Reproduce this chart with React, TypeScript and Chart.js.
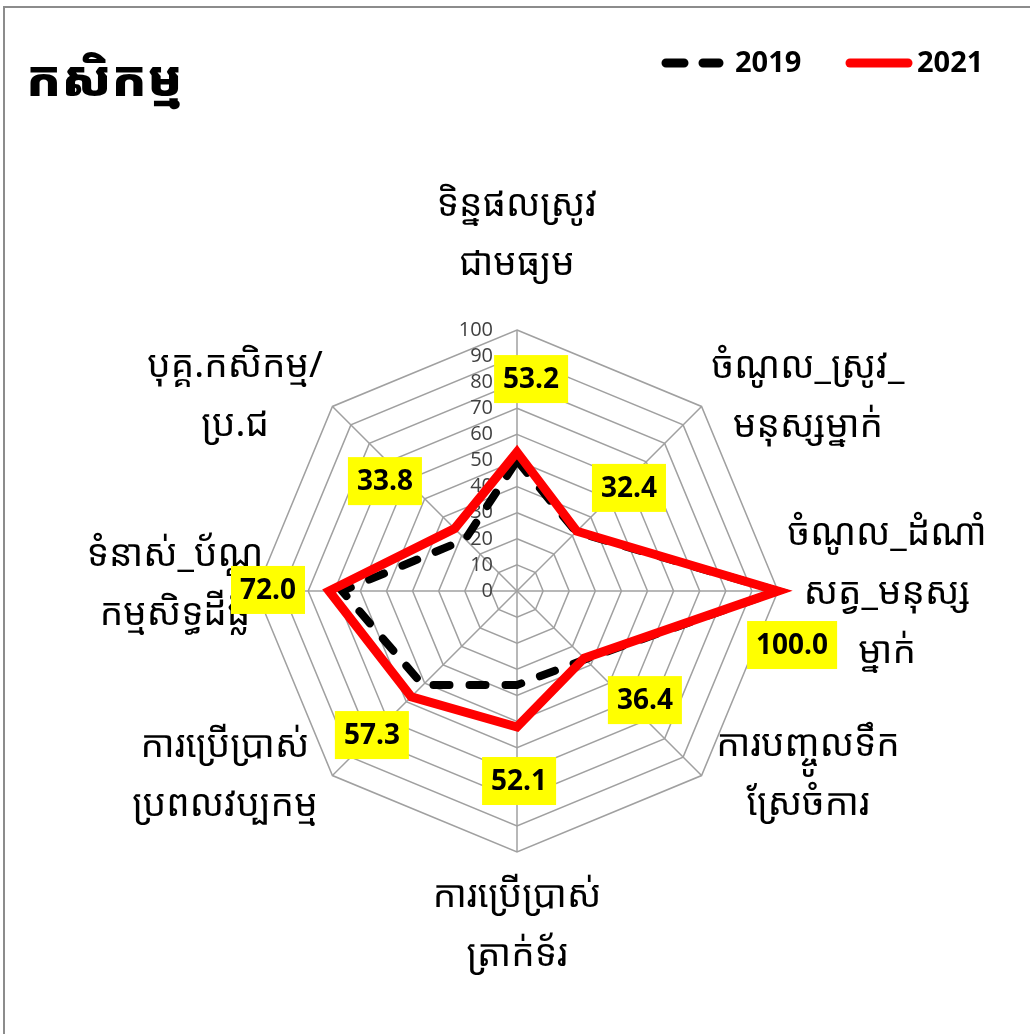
import React, { useEffect, useRef } from 'react';
import { Chart, registerables } from 'chart.js';

Chart.register(...registerables);

// ---------- data ----------
const categories: string[][] = [
  ['ទិន្នផលស្រូវ', 'ជាមធ្យម'],
  ['ចំណូល_ស្រូវ_', 'មនុស្សម្នាក់'],
  ['ចំណូល_ដំណាំ', 'សត្វ_មនុស្ស', 'ម្នាក់'],
  ['ការបញ្ចូលទឹក', 'ស្រែចំការ'],
  ['ការប្រើប្រាស់', 'ត្រាក់ទ័រ'],
  ['ការប្រើប្រាស់', 'ប្រពលវប្បកម្ម'],
  ['ទំនាស់_ប័ណ្ណ', 'កម្មសិទ្ធដីធ្លី'],
  ['បុគ្គ.កសិកម្ម/', 'ប្រ.ជ'],
];
const values2019: number[] = [50, 32, 100, 37, 36, 51, 67, 28];
const values2021: number[] = [53.2, 32.4, 100.0, 36.4, 52.1, 57.3, 72.0, 33.8];
const seriesNames: string[] = ['2019', '2021'];
const chartTitle = 'កសិកម្ម';
const axisMin = 0;
const axisMax = 100;
const axisStep = 10;

// ---------- layout (not data) ----------
const KHMER = '"Noto Sans Khmer", "Noto Serif Khmer", "Khmer OS", "Khmer OS System", "Hanuman", "Battambang", "Noto Sans", sans-serif';
const NUM = '"Open Sans", "Noto Sans", sans-serif';
// category label block centres, in units of the radar radius, relative to centre
const catLabelPlacement: [number, number][] = [
  [0, -1.364], [1.115, -0.743], [1.418, 0.008], [1.115, 0.705],
  [0, 1.284], [-1.119, 0.709], [-1.31, -0.023], [-1.08, -0.747],
];
// value label box centres, in units of the radar radius, relative to centre
const valueLabelPlacement: [number, number][] = [
  [0.054, -0.812], [0.429, -0.395], [1.054, 0.207], [0.49, 0.418],
  [0.008, 0.728], [-0.556, 0.552], [-0.954, -0.004], [-0.506, -0.421],
];

const overlayPlugin = {
  id: 'overlay',
  beforeDatasetsDraw(chart: any) {
    const scale = chart.scales.r;
    const ctx = chart.ctx as CanvasRenderingContext2D;
    ctx.save();
    ctx.font = `20px ${NUM}`;
    ctx.fillStyle = '#404040';
    ctx.textAlign = 'right';
    ctx.textBaseline = 'middle';
    scale.ticks.forEach((t: any) => {
      const d = scale.getDistanceFromCenterForValue(t.value);
      ctx.fillText(String(t.label), scale.xCenter - 24, scale.yCenter - d);
    });
    ctx.restore();
  },
  afterDatasetsDraw(chart: any) {
    const scale = chart.scales.r;
    const ctx = chart.ctx as CanvasRenderingContext2D;
    const R = scale.drawingArea;
    const cx = scale.xCenter;
    const cy = scale.yCenter;
    ctx.save();
    // category labels
    ctx.font = `37px ${KHMER}`;
    ctx.fillStyle = '#000';
    ctx.textAlign = 'center';
    ctx.textBaseline = 'middle';
    const lh = 59;
    categories.forEach((lines, i) => {
      const [rx, ry] = catLabelPlacement[i];
      const x = cx + rx * R;
      const y0 = cy + ry * R - ((lines.length - 1) * lh) / 2;
      lines.forEach((ln, k) => ctx.fillText(ln, x, y0 + k * lh));
    });
    // value labels (2021)
    ctx.font = `bold 28px ${NUM}`;
    values2021.forEach((v, i) => {
      const [rx, ry] = valueLabelPlacement[i];
      const x = cx + rx * R;
      const y = cy + ry * R;
      const txt = v.toFixed(1);
      const w = ctx.measureText(txt).width + 18;
      const h = 48;
      ctx.fillStyle = '#ffff00';
      ctx.fillRect(x - w / 2, y - h / 2, w, h);
      ctx.fillStyle = '#000';
      ctx.fillText(txt, x, y + 1);
    });
    ctx.restore();
  },
  afterDraw(chart: any) {
    const ctx = chart.ctx as CanvasRenderingContext2D;
    const cy = 63;
    ctx.save();
    // legend
    ctx.lineCap = 'round';
    ctx.lineWidth = 9;
    ctx.strokeStyle = '#000';
    ctx.setLineDash([18, 19]);
    ctx.beginPath();
    ctx.moveTo(666, cy);
    ctx.lineTo(719, cy);
    ctx.stroke();
    ctx.setLineDash([]);
    ctx.strokeStyle = '#ff0000';
    ctx.beginPath();
    ctx.moveTo(850, cy);
    ctx.lineTo(908, cy);
    ctx.stroke();
    ctx.font = `bold 29px ${NUM}`;
    ctx.fillStyle = '#000';
    ctx.textAlign = 'left';
    ctx.textBaseline = 'middle';
    ctx.fillText(seriesNames[0], 735, cy + 1);
    ctx.fillText(seriesNames[1], 917, cy + 1);
    ctx.restore();
  },
};

export default function App() {
  const ref = useRef<HTMLCanvasElement | null>(null);
  useEffect(() => {
    if (!ref.current) return;
    const chart = new Chart(ref.current, {
      type: 'radar',
      data: {
        labels: categories.map((l) => l.join(' ')),
        datasets: [
          {
            label: seriesNames[1],
            data: values2021,
            borderColor: '#ff0000',
            borderWidth: 9,
            backgroundColor: 'transparent',
            fill: false,
            pointRadius: 0,
            pointHoverRadius: 0,
          },
          {
            label: seriesNames[0],
            data: values2019,
            borderColor: '#000000',
            borderWidth: 8,
            borderDash: [16, 20],
            borderCapStyle: 'round',
            backgroundColor: 'transparent',
            fill: false,
            pointRadius: 0,
            pointHoverRadius: 0,
          },
        ],
      },
      options: {
        responsive: false,
        animation: false,
        devicePixelRatio: 1,
        layout: { padding: { left: 256, right: 252, top: 330, bottom: 182 } },
        plugins: {
          legend: { display: false },
          tooltip: { enabled: false },
          title: { display: false },
        },
        elements: { line: { tension: 0 } },
        scales: {
          r: {
            min: axisMin,
            max: axisMax,
            ticks: { stepSize: axisStep, display: false },
            grid: { color: '#a0a0a0', lineWidth: 1.5 },
            angleLines: { color: '#a0a0a0', lineWidth: 1.5 },
            pointLabels: { display: false },
          },
        },
      } as any,
      plugins: [overlayPlugin],
    });
    return () => chart.destroy();
  }, []);

  return (
    <div style={{ position: 'absolute', left: 0, top: 0, width: 1030, height: 1034, overflow: 'hidden', background: '#fff' }}>
      <div style={{ position: 'absolute', left: 3, top: 6, width: 1060, height: 1060, border: '2px solid #8c8c8c', boxSizing: 'border-box' }} />
      <div style={{ position: 'absolute', left: 26, top: 44, fontFamily: KHMER, fontWeight: 900, fontSize: 50, color: '#000', lineHeight: '66px', whiteSpace: 'nowrap' }}>
        {chartTitle}
      </div>
      <canvas ref={ref} width={1030} height={1034} style={{ position: 'absolute', left: 0, top: 0, display: 'block' }} />
    </div>
  );
}
